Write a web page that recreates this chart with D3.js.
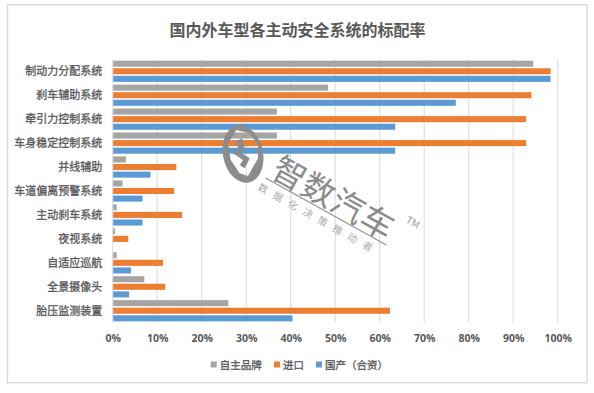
<!DOCTYPE html>
<html><head><meta charset="utf-8">
<script src="https://cdnjs.cloudflare.com/ajax/libs/d3/7.8.5/d3.min.js"></script>
<style>
html,body{margin:0;padding:0;background:#fff}
svg{display:block}
text{font-family:"Noto Sans CJK SC","Noto Sans",sans-serif}
</style></head><body><div id="c"></div>
<script>
const categories=["制动力分配系统","刹车辅助系统","牵引力控制系统","车身稳定控制系统","并线辅助","车道偏离预警系统","主动刹车系统","夜视系统","自适应巡航","全景摄像头","胎压监测装置"];
const seriesNames=["自主品牌","进口","国产\uFF08合资\uFF09"];
const ownBrand=[94.5,48.4,36.9,36.9,3.0,2.2,0.9,0.5,0.9,7.1,26.0];
const imported=[98.4,94.1,92.9,92.9,14.3,13.8,15.6,3.5,11.3,11.8,62.3];
const domestic=[98.4,77.1,63.5,63.5,8.5,6.7,6.7,0,4.1,3.7,40.4];
const colors=["#a5a5a5","#ed7d31","#5b9bd5"];
const xTicks=[0,10,20,30,40,50,60,70,80,90,100];
const title="国内外车型各主动安全系统的标配率";

const W=594,H=393,plot={l:112.7,r:557.7,t:59.3,b:322.7};
const svg=d3.select("#c").append("svg").attr("width",W).attr("height",H);
svg.append("rect").attr("x",7.5).attr("y",4.75).attr("width",579.5).attr("height",378)
  .attr("fill","#fff").attr("stroke","#d9d9d9").attr("stroke-width",1.4);
svg.append("text").attr("x",297.5).attr("y",35.5).attr("text-anchor","middle")
  .attr("font-size",16).attr("font-weight",700).attr("fill","#595959").text(title);

const x=d3.scaleLinear().domain([0,100]).range([plot.l,plot.r]);
const y=d3.scaleBand().domain(categories).range([plot.t,plot.b]);
const sub=d3.scaleBand().domain(seriesNames).range([0,y.bandwidth()]).paddingOuter(0.18).paddingInner(0.2);

const xAxis=d3.axisBottom(x).tickValues(xTicks).tickFormat(d=>d+"%").tickSize(0).tickPadding(0);
const gx=svg.append("g").attr("transform",`translate(0,${plot.b})`).call(xAxis);
gx.select(".domain").remove();
gx.selectAll("text").attr("y",19.5).attr("dy",0).attr("font-size",10.5).attr("font-weight",700)
  .attr("fill","#595959").style("font-family",'"Open Sans",sans-serif');

svg.append("g").selectAll("line").data(xTicks).join("line")
  .attr("x1",d=>x(d)).attr("x2",d=>x(d)).attr("y1",plot.t).attr("y2",plot.b)
  .attr("stroke","#d9d9d9").attr("stroke-width",1);

const yAxis=d3.axisLeft(y).tickSize(0).tickPadding(10.5);
const gy=svg.append("g").attr("transform",`translate(${plot.l},0)`).call(yAxis);
gy.select(".domain").remove();
gy.selectAll("text").attr("font-size",11).attr("font-weight",400).attr("fill","#595959")
  .attr("stroke","#595959").attr("stroke-width",0.3).attr("transform","translate(0,0.6)");

[ownBrand,imported,domestic].forEach((vals,i)=>{
  svg.append("g").selectAll("rect").data(vals).join("rect")
    .attr("x",x(0)+0.5)
    .attr("y",(d,j)=>y(categories[j])+sub(seriesNames[i]))
    .attr("width",d=>Math.max(0,x(d)-x(0)-0.5))
    .attr("height",sub.bandwidth())
    .attr("fill",colors[i]);
});

// legend
const legendX=[210.7,274,316];
const lg=svg.append("g");
seriesNames.forEach((name,i)=>{
  lg.append("rect").attr("x",legendX[i]).attr("y",361.5).attr("width",6).attr("height",6).attr("fill",colors[i]);
  lg.append("text").attr("x",legendX[i]+9).attr("y",368.6).attr("font-size",10.5).attr("fill","#595959")
    .attr("stroke","#595959").attr("stroke-width",0.3).text(name);
});

// watermark
const wm=svg.append("g");
const logo=wm.append("g").attr("transform","translate(243,154)");
logo.append("path").attr("fill-rule","evenodd").attr("fill","#8c8c8c")
  .attr("d","M-6,-28.4A20 29 -12 1 0 6,28.4A20 29 -12 1 0 -6,-28.4Z M-15,-10.7L-6.7,-24L6.7,-20.7L15,-9L15,4.3L5,22L-3.3,19.3L-12.3,6Z");
logo.append("path").attr("fill","#8c8c8c")
  .attr("d","M-8.3,-12.3L-1,-15.7L1.7,-5.7L-3.3,-2.3L6.7,4.3L1.7,14.3L-3.3,11L0,6L-10,-0.7L-4.3,-5.7Z");
const t=wm.append("g").attr("transform","translate(326,211.5) rotate(29)");
t.append("text").attr("text-anchor","middle").attr("x",0).attr("y",-3.5).attr("font-size",33).attr("letter-spacing",0.4)
  .attr("fill","#8a8a8a").text("智数汽车");
t.append("line").attr("x1",-69).attr("x2",69).attr("y1",0).attr("y2",0).attr("stroke","#8f8f8f").attr("stroke-width",1);
t.append("text").attr("text-anchor","middle").attr("x",-3).attr("y",14).attr("font-size",10).attr("letter-spacing",7).attr("fill","#aaa").text("数据化决策推动者");
wm.append("text").attr("transform","translate(405,222) rotate(29)").attr("font-size",10).attr("fill","#999").text("TM");
</script></body></html>
